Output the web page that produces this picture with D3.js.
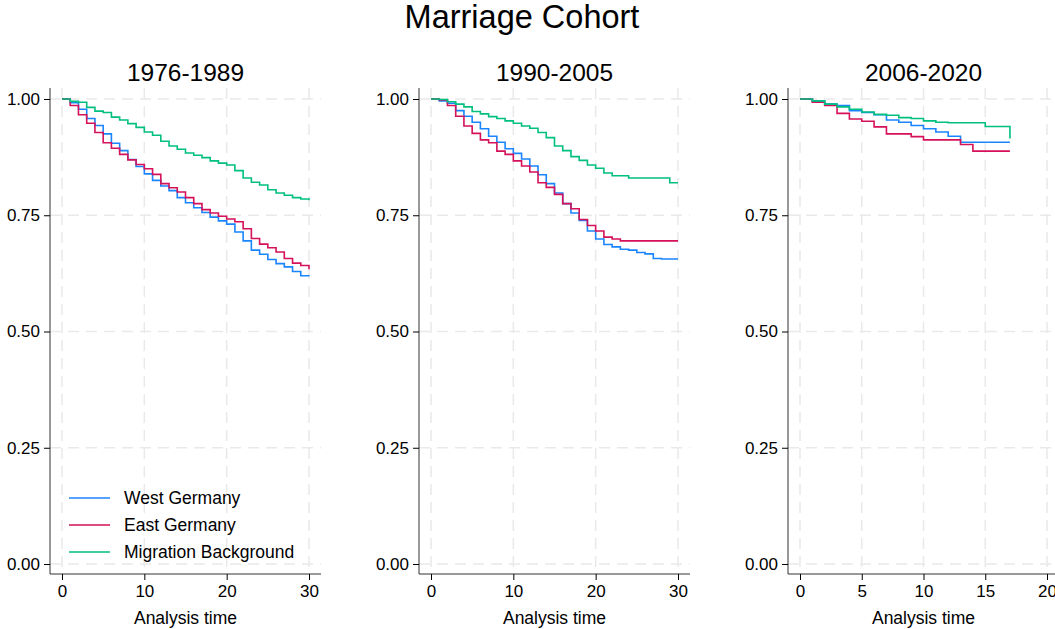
<!DOCTYPE html>
<html>
<head>
<meta charset="utf-8">
<script src="https://cdn.jsdelivr.net/npm/d3@7"></script>
<style>
  body { margin: 0; background: #fff; }
  text { font-family: "Liberation Sans", Arial, sans-serif; fill: #000; }
</style>
</head>
<body>
<div class="chart"></div>
<script>
const panelTitles = ['1976-1989', '1990-2005', '2006-2020'];
const seriesNames = ['West Germany', 'East Germany', 'Migration Background'];
const seriesColors = ['#1a85ff', '#d41159', '#00bf7f'];
const yTicks = [0, 0.25, 0.5, 0.75, 1];
const xTicks1 = [0, 10, 20, 30];
const xTicks2 = [0, 10, 20, 30];
const xTicks3 = [0, 5, 10, 15, 20];

const times30 = [0,1,2,3,4,5,6,7,8,9,10,11,12,13,14,15,16,17,18,19,20,21,22,23,24,25,26,27,28,29,30];
const times17 = [0,1,2,3,4,5,6,7,8,9,10,11,12,13,14,15,16,17];

const p1West = [1, 0.992, 0.978, 0.958, 0.943, 0.925, 0.905, 0.889, 0.870, 0.855, 0.839, 0.825, 0.813, 0.803, 0.788, 0.777, 0.766, 0.756, 0.746, 0.738, 0.731, 0.714, 0.695, 0.675, 0.666, 0.655, 0.646, 0.639, 0.629, 0.620, 0.619];
const p1East = [1, 0.986, 0.966, 0.948, 0.928, 0.906, 0.894, 0.881, 0.869, 0.859, 0.850, 0.838, 0.818, 0.809, 0.800, 0.788, 0.775, 0.762, 0.755, 0.748, 0.742, 0.736, 0.721, 0.700, 0.688, 0.680, 0.671, 0.657, 0.647, 0.642, 0.634];
const p1Mig  = [1, 0.995, 0.993, 0.982, 0.974, 0.971, 0.961, 0.955, 0.947, 0.939, 0.929, 0.922, 0.909, 0.899, 0.892, 0.884, 0.879, 0.874, 0.867, 0.862, 0.858, 0.846, 0.830, 0.821, 0.815, 0.805, 0.798, 0.793, 0.788, 0.785, 0.782];

const p2West = [1, 0.996, 0.991, 0.975, 0.963, 0.950, 0.936, 0.920, 0.907, 0.893, 0.883, 0.871, 0.856, 0.837, 0.818, 0.798, 0.775, 0.755, 0.739, 0.716, 0.699, 0.687, 0.682, 0.677, 0.675, 0.670, 0.667, 0.657, 0.656, 0.656, 0.656];
const p2East = [1, 0.998, 0.986, 0.963, 0.942, 0.926, 0.912, 0.906, 0.888, 0.881, 0.867, 0.856, 0.843, 0.820, 0.810, 0.795, 0.775, 0.764, 0.741, 0.728, 0.716, 0.703, 0.699, 0.695, 0.695, 0.695, 0.695, 0.695, 0.695, 0.695, 0.695];
const p2Mig  = [1, 0.999, 0.994, 0.989, 0.983, 0.973, 0.968, 0.962, 0.958, 0.953, 0.948, 0.942, 0.937, 0.928, 0.917, 0.899, 0.889, 0.876, 0.868, 0.858, 0.851, 0.841, 0.835, 0.835, 0.830, 0.830, 0.830, 0.830, 0.830, 0.820, 0.820];

const p3West = [1, 0.995, 0.989, 0.986, 0.975, 0.971, 0.966, 0.955, 0.950, 0.943, 0.936, 0.929, 0.920, 0.907, 0.907, 0.907, 0.907, 0.907];
const p3East = [1, 0.993, 0.986, 0.969, 0.957, 0.952, 0.940, 0.925, 0.925, 0.919, 0.912, 0.912, 0.912, 0.902, 0.888, 0.888, 0.888, 0.888];
const p3Mig  = [1, 0.996, 0.989, 0.983, 0.978, 0.972, 0.967, 0.965, 0.960, 0.958, 0.953, 0.950, 0.949, 0.949, 0.949, 0.941, 0.941, 0.915];

const panels = [
  { title: panelTitles[0], times: times30, series: [p1West, p1East, p1Mig], xMax: 30, ticks: xTicks1, legend: true },
  { title: panelTitles[1], times: times30, series: [p2West, p2East, p2Mig], xMax: 30, ticks: xTicks2 },
  { title: panelTitles[2], times: times17, series: [p3West, p3East, p3Mig], xMax: 20, ticks: xTicks3 }
];

const width = 1055, height = 629;
const svg = d3.select('.chart').append('svg')
  .attr('width', width).attr('height', height);

svg.append('rect').attr('width', width).attr('height', height).attr('fill', '#fff');

svg.append('text')
  .attr('x', 522).attr('y', 28)
  .attr('text-anchor', 'middle')
  .style('font-size', '32.5px')
  .text('Marriage Cohort');

const plotTop = 88, plotBottom = 574, plotW = 271;

const y = d3.scaleLinear().domain([0, 1]).range([564, 99]);

panels.forEach((p, i) => {
  const left = 50 + i * 369;
  const right = left + plotW;
  const x = d3.scaleLinear().domain([0, p.xMax]).range([left + 12, left + 259]);
  const g = svg.append('g');

  // grid
  g.selectAll('.hgrid').data(yTicks).enter().append('line')
    .attr('x1', left).attr('x2', right)
    .attr('y1', d => y(d)).attr('y2', d => y(d))
    .attr('stroke', '#e9e9e9').attr('stroke-width', 1.5)
    .attr('stroke-dasharray', '11,7');
  g.selectAll('.vgrid').data(p.ticks).enter().append('line')
    .attr('x1', d => x(d)).attr('x2', d => x(d))
    .attr('y1', plotTop).attr('y2', plotBottom)
    .attr('stroke', '#e9e9e9').attr('stroke-width', 1.5)
    .attr('stroke-dasharray', '11,7');

  // curves
  const line = d3.line()
    .x((d, j) => x(p.times[j]))
    .y(d => y(d))
    .curve(d3.curveStepAfter);
  p.series.forEach((s, k) => {
    g.append('path')
      .datum(s)
      .attr('d', line)
      .attr('fill', 'none')
      .attr('stroke', seriesColors[k])
      .attr('stroke-width', 1.6);
  });

  // axes
  const yAxis = g.append('g')
    .attr('transform', `translate(${left},0)`)
    .call(d3.axisLeft(y).tickValues(yTicks).tickFormat(d3.format('.2f')).tickSize(6).tickPadding(4));
  yAxis.select('.domain').attr('d', `M0,${plotTop}V${plotBottom}`).attr('stroke', '#333');
  yAxis.selectAll('text').style('font-size', '17px').attr('fill', '#000');

  const xAxis = g.append('g')
    .attr('transform', `translate(0,${plotBottom})`)
    .call(d3.axisBottom(x).tickValues(p.ticks).tickSize(6).tickPadding(5));
  xAxis.select('.domain').attr('d', `M${left},0H${right}`).attr('stroke', '#333');
  xAxis.selectAll('text').style('font-size', '17px').attr('fill', '#000');

  g.append('text')
    .attr('x', (left + right) / 2).attr('y', 624)
    .attr('text-anchor', 'middle')
    .style('font-size', '17.5px')
    .text('Analysis time');

  g.append('text')
    .attr('x', (left + right) / 2).attr('y', 81)
    .attr('text-anchor', 'middle')
    .style('font-size', '24.5px')
    .text(p.title);

  if (p.legend) {
    const leg = g.selectAll('.leg').data(seriesNames).enter().append('g')
      .attr('transform', (d, k) => `translate(0,${498 + k * 27})`);
    leg.append('line')
      .attr('x1', left + 19).attr('x2', left + 60)
      .attr('stroke', (d, k) => seriesColors[k]).attr('stroke-width', 1.6);
    leg.append('text')
      .attr('x', left + 74).attr('y', 6)
      .style('font-size', '17.5px')
      .text(d => d);
  }
});
</script>
</body>
</html>
